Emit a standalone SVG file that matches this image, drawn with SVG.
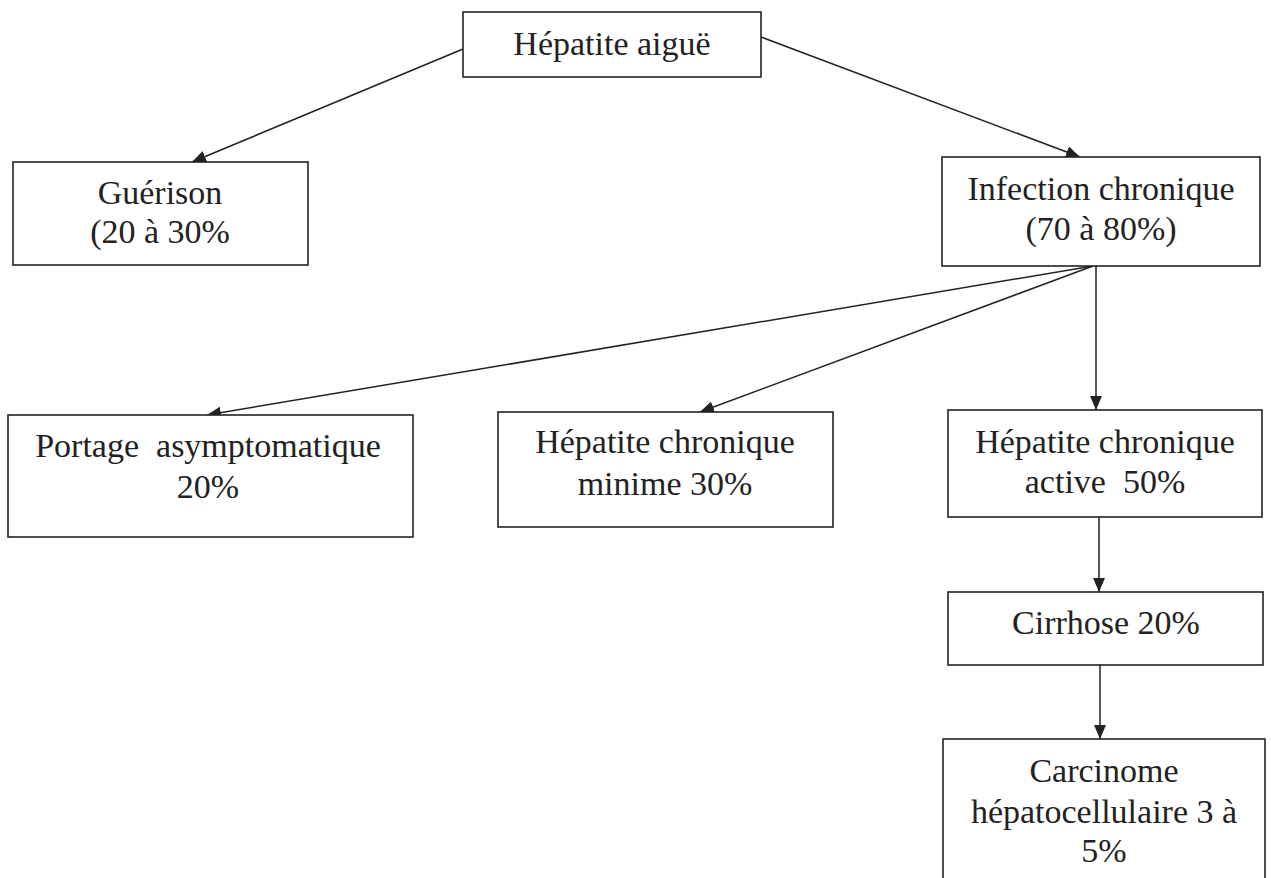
<svg xmlns="http://www.w3.org/2000/svg" width="1271" height="878" viewBox="0 0 1271 878">
<style>
.box{fill:#fff;stroke:#222;stroke-width:1.6}
.t{font-family:"Liberation Serif","Times New Roman",serif;font-size:34px;fill:#222;text-anchor:middle;white-space:pre}
.c{stroke:#222;stroke-width:1.5;fill:none;marker-end:url(#ah)}
</style>
<defs>
<marker id="ah" markerUnits="userSpaceOnUse" markerWidth="14" markerHeight="12" viewBox="0 0 14 12" refX="14" refY="6" orient="auto">
<path d="M0,0 L14,6 L0,12 z" fill="#222"/>
</marker>
</defs>
<rect width="1271" height="878" fill="#fff"/>
<g id="connectors">
<line class="c" x1="463" y1="49" x2="192" y2="162"/>
<line class="c" x1="761" y1="37" x2="1080" y2="157"/>
<line class="c" x1="1093" y1="266" x2="207" y2="415"/>
<line class="c" x1="1093" y1="266" x2="700" y2="412"/>
<line class="c" x1="1096" y1="266" x2="1096" y2="410"/>
<line class="c" x1="1099" y1="517" x2="1099" y2="592"/>
<line class="c" x1="1100" y1="665" x2="1100" y2="739"/>
</g>
<g id="hepatite-aigue">
<rect class="box" x="463" y="12" width="298" height="65"/>
<text class="t" x="612" y="55">Hépatite aiguë</text>
</g>
<g id="guerison">
<rect class="box" x="13" y="162" width="295" height="103"/>
<text class="t" x="160" y="204">Guérison</text>
<text class="t" x="160" y="243">(20 à 30%</text>
</g>
<g id="infection-chronique">
<rect class="box" x="942" y="157" width="318" height="109"/>
<text class="t" x="1101" y="200">Infection chronique</text>
<text class="t" x="1101" y="240">(70 à 80%)</text>
</g>
<g id="portage">
<rect class="box" x="8" y="415" width="405" height="122"/>
<text class="t" x="208" y="457" xml:space="preserve">Portage  asymptomatique</text>
<text class="t" x="208" y="498">20%</text>
</g>
<g id="hepatite-minime">
<rect class="box" x="498" y="412" width="335" height="115"/>
<text class="t" x="665" y="453">Hépatite chronique</text>
<text class="t" x="665" y="495">minime 30%</text>
</g>
<g id="hepatite-active">
<rect class="box" x="948" y="410" width="314" height="107"/>
<text class="t" x="1105" y="453">Hépatite chronique</text>
<text class="t" x="1105" y="493" xml:space="preserve">active  50%</text>
</g>
<g id="cirrhose">
<rect class="box" x="948" y="592" width="315" height="73"/>
<text class="t" x="1106" y="634">Cirrhose 20%</text>
</g>
<g id="carcinome">
<rect class="box" x="943" y="739" width="322" height="160"/>
<text class="t" x="1104" y="782">Carcinome</text>
<text class="t" x="1104" y="823">hépatocellulaire 3 à</text>
<text class="t" x="1104" y="862">5%</text>
</g>
</svg>
